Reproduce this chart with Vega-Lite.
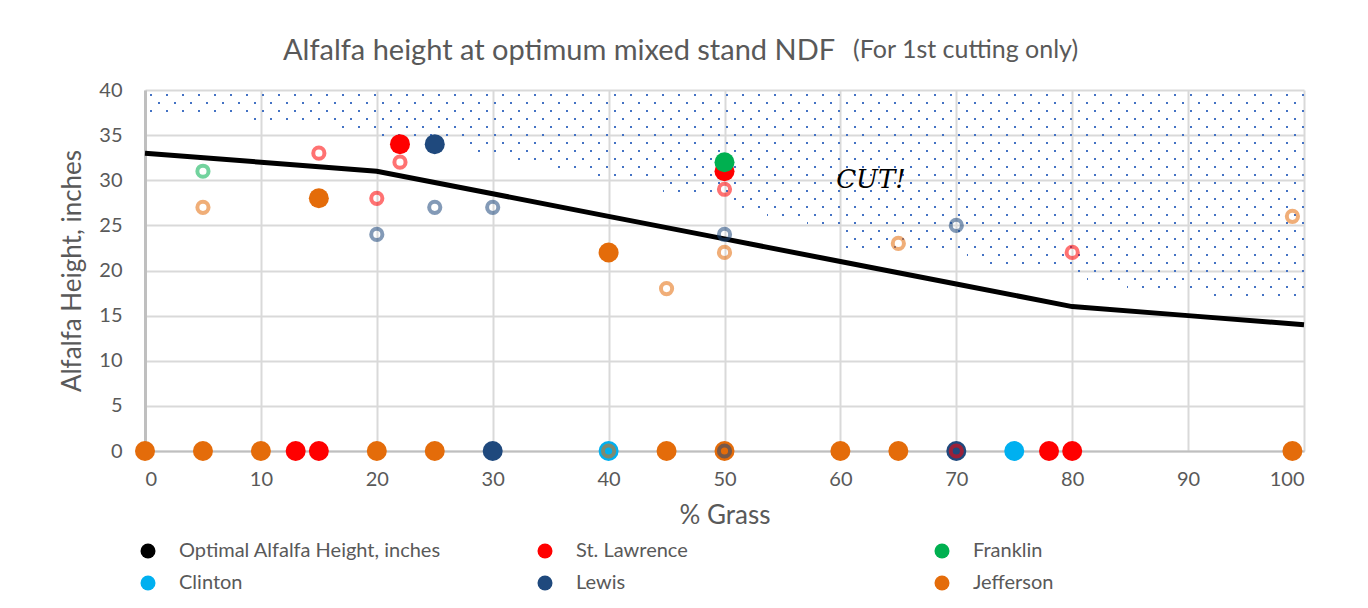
{
  "$schema": "https://vega.github.io/schema/vega-lite/v6.json",
  "width": 1159,
  "height": 361,
  "autosize": {"type": "none"},
  "padding": {"left": 145, "top": 90, "right": 64, "bottom": 157},
  "background": "white",
  "config": {
    "font": "Lato",
    "view": {"stroke": null},
    "axis": {
      "labelFont": "Lato",
      "labelFontSize": 20,
      "labelColor": "#595959",
      "titleFont": "Lato",
      "titleColor": "#595959",
      "titleFontWeight": "normal",
      "titleFontSize": 26,
      "gridColor": "#D9D9D9",
      "gridWidth": 2,
      "domainColor": "#BFBFBF",
      "ticks": false
    }
  },
  "title": {
    "text": "Alfalfa height at optimum mixed stand NDF",
    "anchor": "start",
    "frame": "group",
    "dx": 138,
    "offset": 0,
    "dy": 28,
    "fontSize": 29,
    "fontWeight": "normal",
    "font": "Lato",
    "color": "#595959"
  },
  "datasets": {
    "dotsA": [
      {"y": 39.45, "xStart": 0, "xEnd": 100},
      {"y": 37.67, "xStart": 0, "xEnd": 100},
      {"y": 35.90, "xStart": 16.82, "xEnd": 100},
      {"y": 34.13, "xStart": 27.44, "xEnd": 100},
      {"y": 32.35, "xStart": 31.92, "xEnd": 100},
      {"y": 30.58, "xStart": 38.40, "xEnd": 100},
      {"y": 28.81, "xStart": 44.69, "xEnd": 100},
      {"y": 27.04, "xStart": 51.51, "xEnd": 100},
      {"y": 25.26, "xStart": 57.12, "xEnd": 100},
      {"y": 23.49, "xStart": 60.40, "xEnd": 100},
      {"y": 21.72, "xStart": 70.92, "xEnd": 100},
      {"y": 19.94, "xStart": 79.81, "xEnd": 100},
      {"y": 18.17, "xStart": 84.73, "xEnd": 100}
    ],
    "dotsB": [
      {"y": 38.56, "xStart": 0, "xEnd": 100},
      {"y": 36.79, "xStart": 9.06, "xEnd": 100},
      {"y": 35.01, "xStart": 20.02, "xEnd": 100},
      {"y": 33.24, "xStart": 28.73, "xEnd": 100},
      {"y": 31.47, "xStart": 35.63, "xEnd": 100},
      {"y": 29.70, "xStart": 44.69, "xEnd": 100},
      {"y": 27.92, "xStart": 50.22, "xEnd": 100},
      {"y": 26.15, "xStart": 53.67, "xEnd": 100},
      {"y": 24.38, "xStart": 60.40, "xEnd": 100},
      {"y": 22.60, "xStart": 60.40, "xEnd": 100},
      {"y": 20.83, "xStart": 72.91, "xEnd": 100},
      {"y": 19.06, "xStart": 81.28, "xEnd": 100},
      {"y": 17.29, "xStart": 92.15, "xEnd": 100}
    ],
    "optimal": [
      {"grass": 0, "height": 33},
      {"grass": 10, "height": 32},
      {"grass": 20, "height": 31},
      {"grass": 30, "height": 28.5},
      {"grass": 40, "height": 26},
      {"grass": 50, "height": 23.5},
      {"grass": 60, "height": 21},
      {"grass": 70, "height": 18.5},
      {"grass": 80, "height": 16},
      {"grass": 90, "height": 15},
      {"grass": 100, "height": 14}
    ],
    "solid": [
      {"grass": 22, "height": 34, "series": "St. Lawrence"},
      {"grass": 50, "height": 31, "series": "St. Lawrence"},
      {"grass": 13, "height": 0, "series": "St. Lawrence"},
      {"grass": 15, "height": 0, "series": "St. Lawrence"},
      {"grass": 78, "height": 0, "series": "St. Lawrence"},
      {"grass": 80, "height": 0, "series": "St. Lawrence"},
      {"grass": 50, "height": 32, "series": "Franklin"},
      {"grass": 40, "height": 0, "series": "Clinton"},
      {"grass": 75, "height": 0, "series": "Clinton"},
      {"grass": 25, "height": 34, "series": "Lewis"},
      {"grass": 30, "height": 0, "series": "Lewis"},
      {"grass": 70, "height": 0, "series": "Lewis"},
      {"grass": 15, "height": 28, "series": "Jefferson"},
      {"grass": 40, "height": 22, "series": "Jefferson"},
      {"grass": 0, "height": 0, "series": "Jefferson"},
      {"grass": 5, "height": 0, "series": "Jefferson"},
      {"grass": 10, "height": 0, "series": "Jefferson"},
      {"grass": 20, "height": 0, "series": "Jefferson"},
      {"grass": 25, "height": 0, "series": "Jefferson"},
      {"grass": 45, "height": 0, "series": "Jefferson"},
      {"grass": 50, "height": 0, "series": "Jefferson"},
      {"grass": 60, "height": 0, "series": "Jefferson"},
      {"grass": 65, "height": 0, "series": "Jefferson"},
      {"grass": 99, "height": 0, "series": "Jefferson"}
    ],
    "open": [
      {"grass": 15, "height": 33, "series": "St. Lawrence"},
      {"grass": 20, "height": 28, "series": "St. Lawrence"},
      {"grass": 22, "height": 32, "series": "St. Lawrence"},
      {"grass": 50, "height": 29, "series": "St. Lawrence"},
      {"grass": 80, "height": 22, "series": "St. Lawrence"},
      {"grass": 70, "height": 0, "series": "St. Lawrence"},
      {"grass": 5, "height": 31, "series": "Franklin"},
      {"grass": 20, "height": 24, "series": "Lewis"},
      {"grass": 25, "height": 27, "series": "Lewis"},
      {"grass": 30, "height": 27, "series": "Lewis"},
      {"grass": 50, "height": 24, "series": "Lewis"},
      {"grass": 70, "height": 25, "series": "Lewis"},
      {"grass": 50, "height": 0, "series": "Lewis"},
      {"grass": 5, "height": 27, "series": "Jefferson"},
      {"grass": 15, "height": 28, "series": "Jefferson"},
      {"grass": 45, "height": 18, "series": "Jefferson"},
      {"grass": 50, "height": 22, "series": "Jefferson"},
      {"grass": 65, "height": 23, "series": "Jefferson"},
      {"grass": 99, "height": 26, "series": "Jefferson"},
      {"grass": 40, "height": 0, "series": "Jefferson"}
    ],
    "notes": [
      {"grass": 62.64, "height": 30.03, "label": "CUT!"}
    ],
    "subtitle": [
      {"grass": 61.09, "height": 43.55, "label": "(For 1st cutting only)"}
    ]
  },
  "layer": [
    {
      "data": {"name": "dotsA"},
      "mark": {"type": "rule", "color": "#4472C4", "strokeWidth": 2, "strokeDash": [2, 14], "strokeCap": "butt"},
      "encoding": {
        "x": {"field": "xEnd", "type": "quantitative", "title": "% Grass", "scale": {"domain": [0, 100], "nice": false, "zero": false}},
        "x2": {"field": "xStart"},
        "y": {"field": "y", "type": "quantitative", "title": "Alfalfa Height, inches", "scale": {"domain": [0, 40], "nice": false, "zero": false}}
      }
    },
    {
      "data": {"name": "dotsB"},
      "mark": {"type": "rule", "color": "#4472C4", "strokeWidth": 2, "strokeDash": [2, 14], "strokeDashOffset": 8, "strokeCap": "butt"},
      "encoding": {
        "x": {"field": "xEnd", "type": "quantitative", "title": "% Grass", "scale": {"domain": [0, 100], "nice": false, "zero": false}},
        "x2": {"field": "xStart"},
        "y": {"field": "y", "type": "quantitative", "title": "Alfalfa Height, inches", "scale": {"domain": [0, 40], "nice": false, "zero": false}}
      }
    },
    {
      "data": {"name": "optimal"},
      "mark": {"type": "line", "strokeWidth": 5, "color": "#000000"},
      "encoding": {
        "x": {"field": "grass", "type": "quantitative", "title": "% Grass", "scale": {"domain": [0, 100], "nice": false, "zero": false}},
        "y": {"field": "height", "type": "quantitative", "title": "Alfalfa Height, inches", "scale": {"domain": [0, 40], "nice": false, "zero": false}}
      }
    },
    {
      "data": {"name": "solid"},
      "mark": {"type": "point", "shape": "circle", "filled": true, "size": 400, "opacity": 1},
      "encoding": {
        "x": {
          "field": "grass", "type": "quantitative", "title": "% Grass",
          "scale": {"domain": [0, 100], "nice": false, "zero": false},
          "axis": {
            "values": [0, 10, 20, 30, 40, 50, 60, 70, 80, 90, 100],
            "labelPadding": 18, "domainWidth": 2, "grid": true,
            "titleY": 64, "titleBaseline": "middle"
          }
        },
        "y": {
          "field": "height", "type": "quantitative", "title": "Alfalfa Height, inches",
          "scale": {"domain": [0, 40], "nice": false, "zero": false},
          "axis": {
            "values": [0, 5, 10, 15, 20, 25, 30, 35, 40],
            "labelPadding": 23, "domainWidth": 3, "grid": true,
            "titleX": -73, "titleY": 180.5, "titleBaseline": "middle", "titleAngle": -90
          }
        },
        "color": {
          "field": "series", "type": "nominal", "title": null,
          "scale": {
            "domain": ["Optimal Alfalfa Height, inches", "St. Lawrence", "Franklin", "Clinton", "Lewis", "Jefferson"],
            "range": ["#000000", "#FF0000", "#00B050", "#00B0F0", "#1F497D", "#E46C0A"]
          },
          "legend": {
            "orient": "none",
            "direction": "horizontal",
            "legendX": -7,
            "legendY": 447,
            "columns": 3,
            "gridAlign": "all",
            "columnPadding": 94,
            "rowPadding": 4,
            "clipHeight": 28,
            "symbolSize": 225,
            "symbolStrokeWidth": 0,
            "symbolType": "circle",
            "labelOffset": 21,
            "labelFont": "Lato",
            "labelFontSize": 20,
            "labelColor": "#595959",
            "labelLimit": 400,
            "encode": {
              "symbols": {
                "update": {
                  "shape": {"signal": "datum.value === 'Optimal Alfalfa Height, inches' ? 'stroke' : 'circle'"},
                  "size": {"signal": "datum.value === 'Optimal Alfalfa Height, inches' ? 3249 : 225"},
                  "stroke": {"signal": "datum.value === 'Optimal Alfalfa Height, inches' ? '#000000' : 'transparent'"},
                  "strokeWidth": {"signal": "datum.value === 'Optimal Alfalfa Height, inches' ? 5 : 0"}
                }
              }
            }
          }
        }
      }
    },
    {
      "data": {"name": "open"},
      "mark": {"type": "point", "shape": "circle", "filled": false, "size": 125, "strokeWidth": 4, "opacity": 0.55},
      "encoding": {
        "x": {"field": "grass", "type": "quantitative", "title": "% Grass", "scale": {"domain": [0, 100], "nice": false, "zero": false}},
        "y": {"field": "height", "type": "quantitative", "title": "Alfalfa Height, inches", "scale": {"domain": [0, 40], "nice": false, "zero": false}},
        "color": {"field": "series", "type": "nominal", "title": null}
      }
    },
    {
      "data": {"name": "notes"},
      "mark": {"type": "text", "font": "DejaVu Serif", "fontStyle": "italic", "fontSize": 26, "color": "#000000", "align": "center", "baseline": "middle"},
      "encoding": {
        "x": {"field": "grass", "type": "quantitative", "title": "% Grass", "scale": {"domain": [0, 100], "nice": false, "zero": false}},
        "y": {"field": "height", "type": "quantitative", "title": "Alfalfa Height, inches", "scale": {"domain": [0, 40], "nice": false, "zero": false}},
        "text": {"field": "label", "type": "nominal"}
      }
    },
    {
      "data": {"name": "subtitle"},
      "mark": {"type": "text", "font": "Lato", "fontSize": 25, "color": "#595959", "align": "left", "baseline": "alphabetic"},
      "encoding": {
        "x": {"field": "grass", "type": "quantitative", "title": "% Grass", "scale": {"domain": [0, 100], "nice": false, "zero": false}},
        "y": {"field": "height", "type": "quantitative", "title": "Alfalfa Height, inches", "scale": {"domain": [0, 40], "nice": false, "zero": false}},
        "text": {"field": "label", "type": "nominal"}
      }
    }
  ]
}
